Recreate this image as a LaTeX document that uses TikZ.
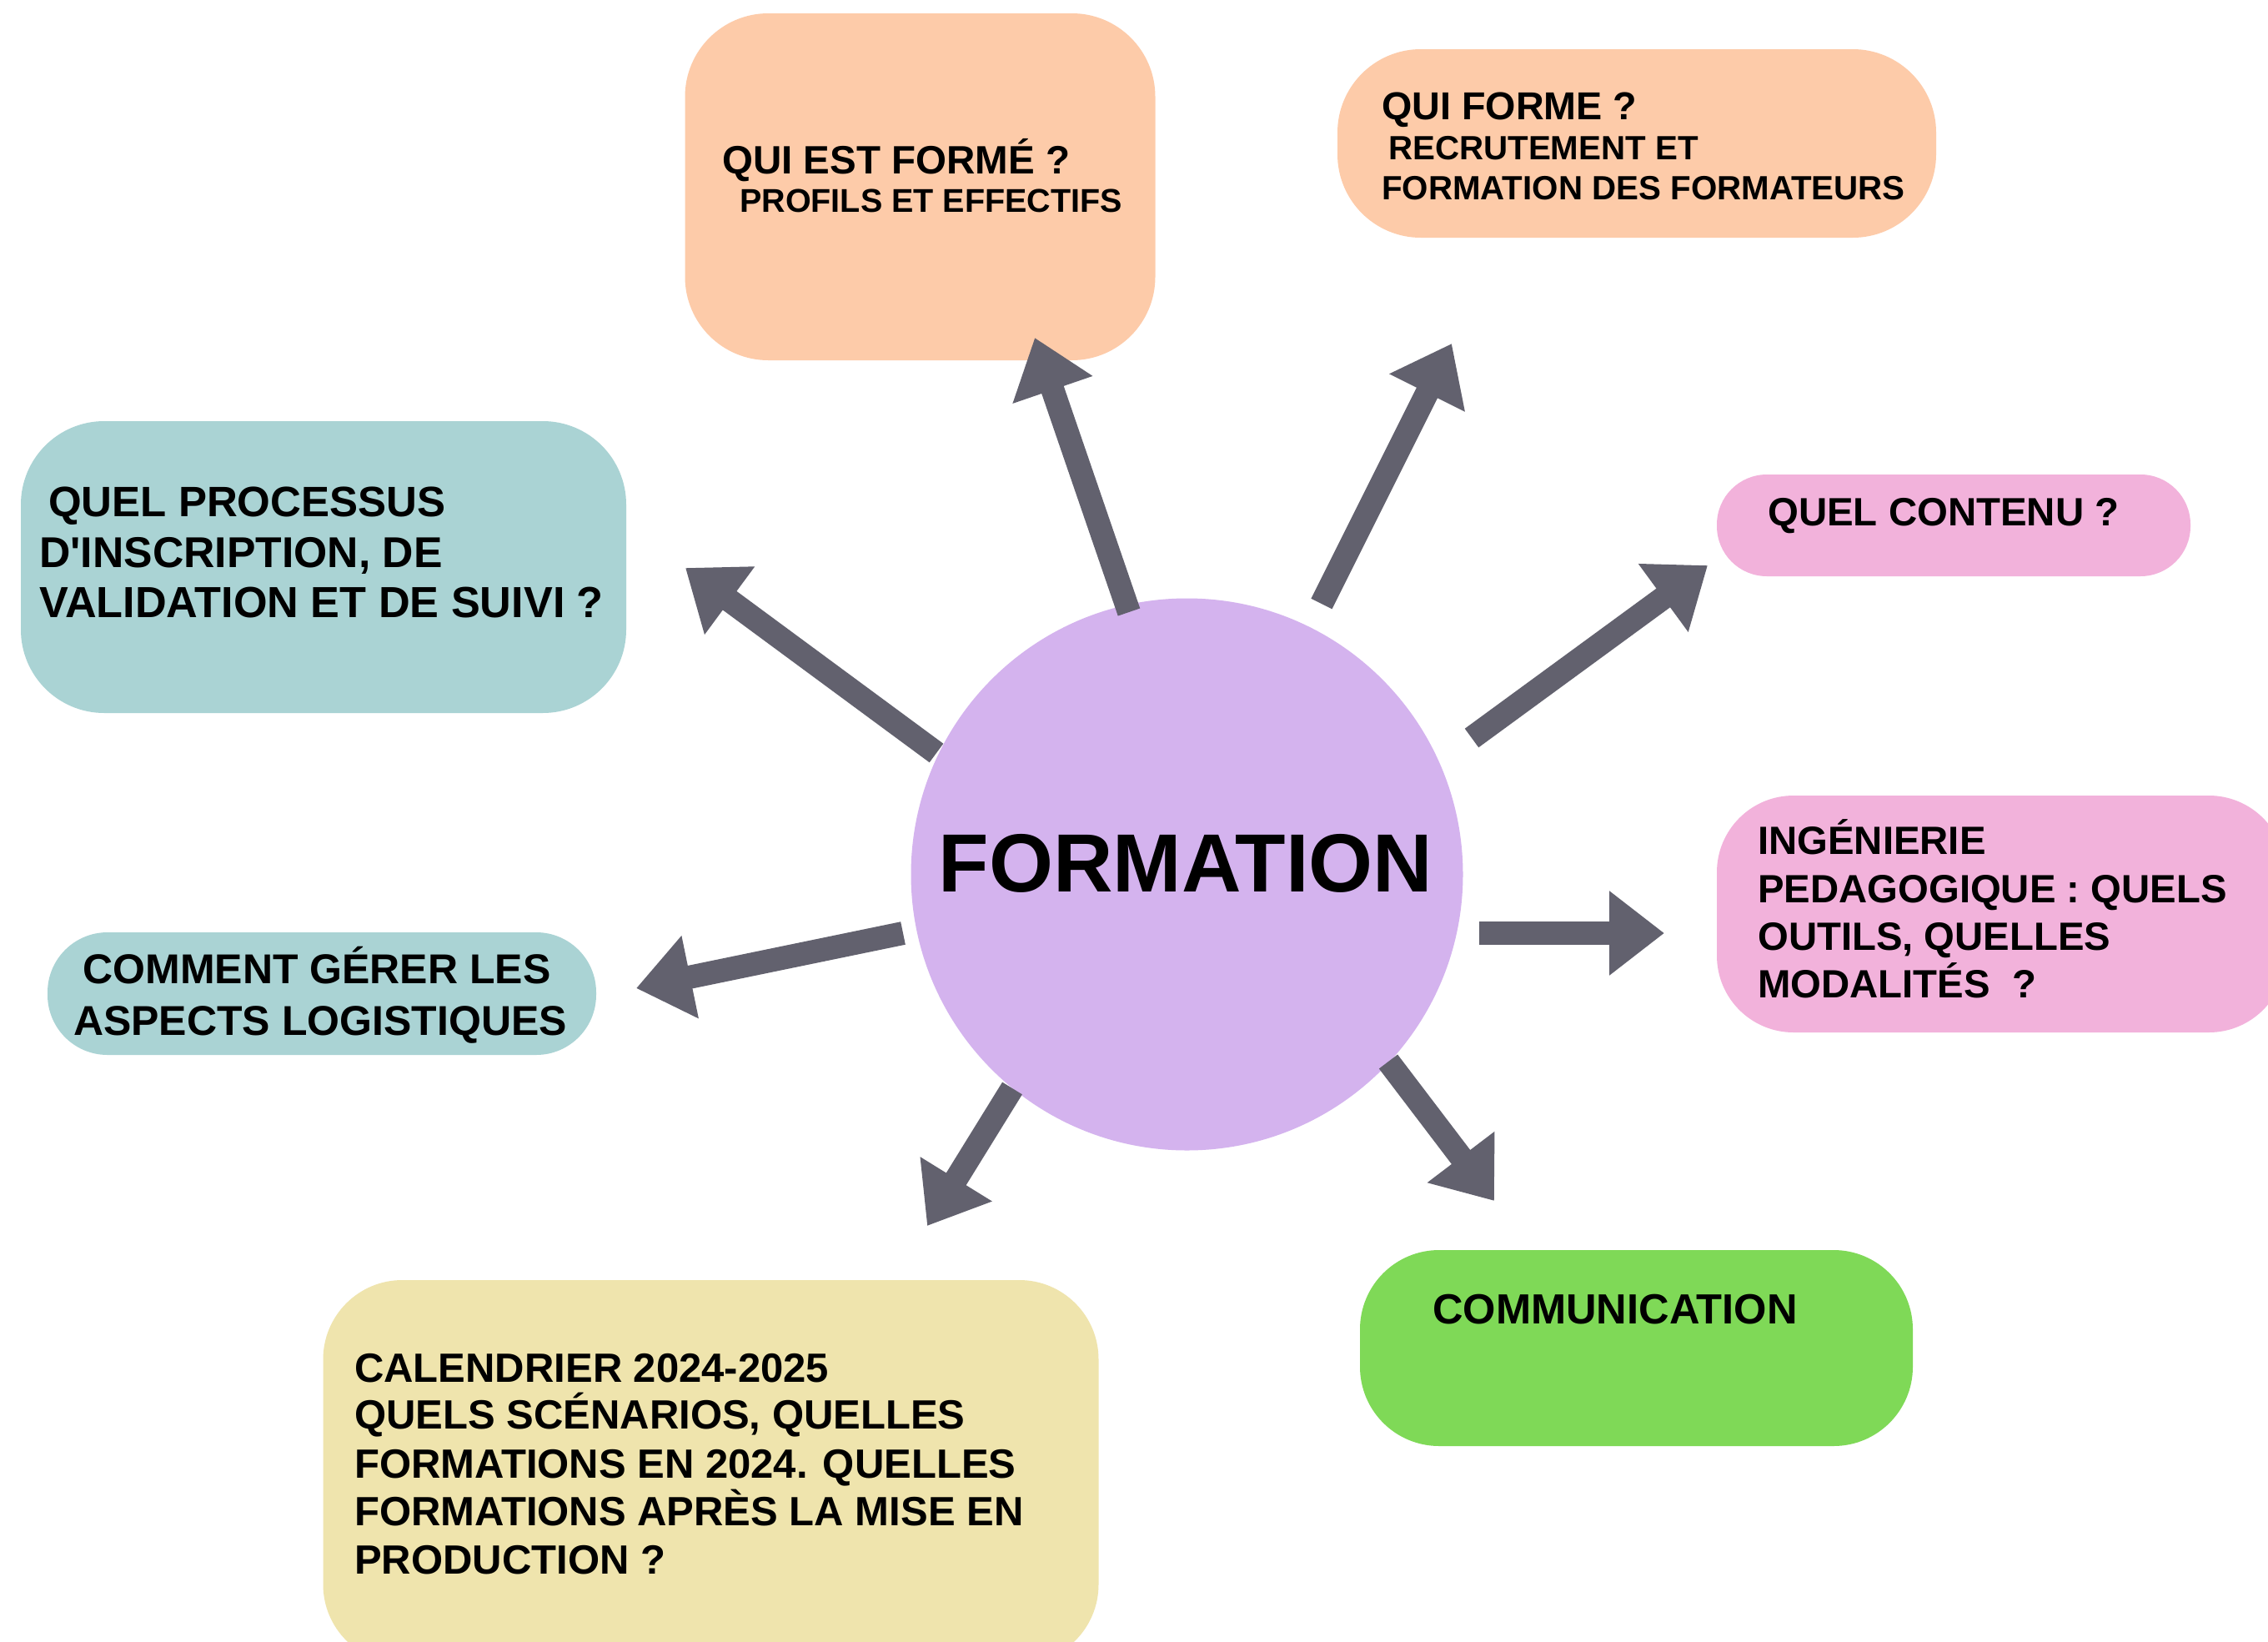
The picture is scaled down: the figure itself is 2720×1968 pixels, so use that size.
\documentclass[tikz,border=0pt]{standalone}
\usepackage{fontspec}
\setmainfont{Liberation Sans}[Ligatures=TeXOff]
\usetikzlibrary{arrows.meta}
\definecolor{peach}{HTML}{FDCBA9}
\definecolor{pinkbox}{HTML}{F2B2DB}
\definecolor{greenbox}{HTML}{7FD957}
\definecolor{yellowbox}{HTML}{EFE4AD}
\definecolor{tealbox}{HTML}{AAD3D4}
\definecolor{lavender}{HTML}{D4B3EE}
\definecolor{arrowgray}{HTML}{62616E}
\newcommand\fsz[1]{\fontsize{#1}{#1}\selectfont}
\begin{document}
\begin{tikzpicture}[x=1pt,y=-1pt,
  box/.style={rectangle, inner sep=0pt, draw=none},
  lbl/.style={anchor=base west, inner sep=0pt, font=\bfseries},
  clbl/.style={anchor=base, inner sep=0pt, font=\bfseries},
  arr/.style={draw=arrowgray, line width=28pt, -{Triangle[length=66pt,width=97pt]}}]
\useasboundingbox (0,0) rectangle (2720,1968);
\clip (0,0) rectangle (2720,1968);
\fill[white] (0,0) rectangle (2720,1968);

% boxes
\node[box, fill=peach, minimum width=564pt, minimum height=416pt, rounded corners=100pt] (b1) at (1103.5,224) {};
\node[box, fill=peach, minimum width=718pt, minimum height=226pt, rounded corners=100pt] (b2) at (1963,172) {};
\node[box, fill=pinkbox, minimum width=568pt, minimum height=122pt, rounded corners=60pt] (b3) at (2343,630) {};
\node[box, fill=pinkbox, minimum width=682pt, minimum height=284pt, rounded corners=92pt] (b4) at (2400,1096) {};
\node[box, fill=greenbox, minimum width=663pt, minimum height=235pt, rounded corners=95pt] (b5) at (1962.5,1616.5) {};
\node[box, fill=yellowbox, minimum width=930pt, minimum height=460pt, rounded corners=95pt] (b6) at (852.5,1765) {};
\node[box, fill=tealbox, minimum width=658pt, minimum height=147pt, rounded corners=72pt] (b7) at (386,1191.5) {};
\node[box, fill=tealbox, minimum width=726pt, minimum height=350pt, rounded corners=100pt] (b8) at (388,680) {};

% centre
\node[circle, fill=lavender, minimum size=662pt, inner sep=0pt] (circ) at (1423.5,1048.5) {};
\node[clbl] (ctitle) at (1422,1069) {\fsz{99}FORMATION};

% texts
\node[lbl] (t1a) at (866,208) {\fsz{47.5}QUI EST FORMÉ ?};
\node[lbl] (t1b) at (887,254) {\fsz{39.5}PROFILS ET EFFECTIFS};

\node[lbl] (t2a) at (1657,143) {\fsz{46.7}QUI FORME ?};
\node[lbl] (t2b) at (1665,191) {\fsz{40.3}RECRUTEMENT ET};
\node[lbl] (t2c) at (1657,239) {\fsz{40.3}FORMATION DES FORMATEURS};

\node[lbl] (t3a) at (2120,630) {\fsz{47.4}QUEL CONTENU ?};

\node[lbl] (t4a) at (2108,1024) {\fsz{47.3}INGÉNIERIE};
\node[lbl] (t4b) at (2108,1082) {\fsz{47.3}PEDAGOGIQUE : QUELS};
\node[lbl] (t4c) at (2108,1139) {\fsz{47.3}OUTILS, QUELLES};
\node[lbl] (t4d) at (2108,1196) {\fsz{47.3}MODALITÉS\ \ ?};

\node[lbl] (t5a) at (1718,1587) {\fsz{50.6}COMMUNICATION};

\node[lbl] (t6a) at (425,1657) {\fsz{49}CALENDRIER 2024-2025};
\node[lbl] (t6b) at (425,1713) {\fsz{49}QUELS SCÉNARIOS, QUELLES};
\node[lbl] (t6c) at (425,1772) {\fsz{49}FORMATIONS EN 2024. QUELLES};
\node[lbl] (t6d) at (425,1829) {\fsz{49}FORMATIONS APRÈS LA MISE EN};
\node[lbl] (t6e) at (425,1887) {\fsz{49}PRODUCTION ?};

\node[clbl] (t7a) at (380,1179) {\fsz{50}COMMENT GÉRER LES};
\node[clbl] (t7b) at (384,1241) {\fsz{50}ASPECTS LOGISTIQUES};

\node[lbl] (t8a) at (58,619) {\fsz{51}QUEL PROCESSUS};
\node[lbl] (t8b) at (47,680) {\fsz{51.7}D'INSCRIPTION, DE};
\node[lbl] (t8c) at (47,740) {\fsz{52.2}VALIDATION ET DE SUIVI ?};

% arrows
\coordinate (s1) at (1354,734); \coordinate (e1) at (1241,405);
\coordinate (s2) at (1585,724); \coordinate (e2) at (1741,412);
\coordinate (s3) at (1765,885); \coordinate (e3) at (2048,678);
\coordinate (s4) at (1774,1119); \coordinate (e4) at (1996,1119);
\coordinate (s5) at (1665,1273); \coordinate (e5) at (1792,1440);
\coordinate (s6) at (1214,1305); \coordinate (e6) at (1112,1470);
\coordinate (s7) at (1083,1119); \coordinate (e7) at (763,1185);
\coordinate (s8) at (1123,903); \coordinate (e8) at (822,681);
\draw[arr] (s1) -- (e1);
\draw[arr] (s2) -- (e2);
\draw[arr] (s3) -- (e3);
\draw[arr] (s4) -- (e4);
\draw[arr] (s5) -- (e5);
\draw[arr] (s6) -- (e6);
\draw[arr] (s7) -- (e7);
\draw[arr] (s8) -- (e8);
\end{tikzpicture}
\end{document}
